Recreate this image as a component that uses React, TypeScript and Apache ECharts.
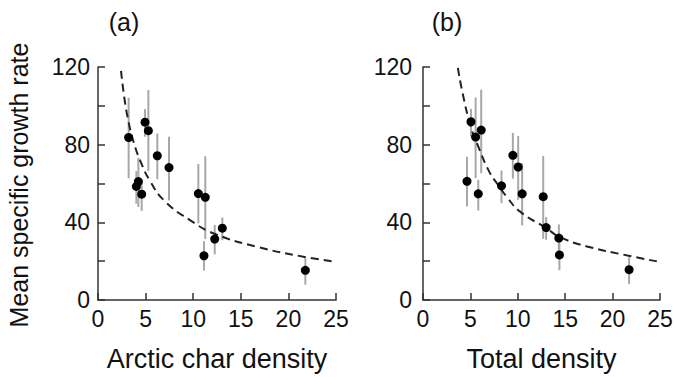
import React, { useEffect, useRef } from "react";
import * as echarts from "echarts";

// Panel (a): Arctic char density
const aDensity = [3.22, 4.03, 4.24, 4.59, 4.94, 5.29, 6.23, 7.46, 10.54, 11.27, 11.13, 12.26, 13.06, 21.78];
const aGrowth = [83.7, 58.5, 61.0, 54.5, 91.6, 87.2, 74.3, 68.2, 54.8, 52.9, 22.8, 31.4, 37.0, 15.3];
const aLow = [62.7, 49.6, 47.9, 45.9, 84.1, 66.4, 62.2, 51.3, 39.5, 31.4, 15.1, 23.5, 30.8, 7.9];
const aHigh = [104.2, 66.4, 73.1, 61.7, 98.3, 108.1, 85.7, 84.1, 70.1, 74.0, 30.3, 38.7, 42.5, 21.8];
const aCurveX = [2.42, 2.8, 3.2, 3.7, 4.5, 5.5, 7, 9.7, 12.3, 16.7, 21.7, 25];
const aCurveY = [118, 103, 92, 82, 71, 61, 51, 41, 34, 27.4, 22.2, 19.7];

// Panel (b): Total density
const bDensity = [4.64, 5.06, 5.55, 5.83, 6.14, 8.28, 9.48, 10.04, 10.46, 12.68, 12.99, 14.33, 14.39, 21.74];
const bGrowth = [61.1, 91.8, 83.9, 54.7, 87.5, 58.8, 74.5, 68.5, 54.7, 53.2, 37.3, 31.9, 23.2, 15.6];
const bLow = [48.2, 84.2, 62.8, 46.1, 65.3, 49.9, 62.5, 51.6, 38.4, 31.5, 31.0, 23.8, 15.3, 8.2];
const bHigh = [73.7, 98.4, 104.3, 61.9, 108.3, 66.7, 86.0, 84.4, 70.4, 74.2, 42.7, 38.9, 30.4, 22.0];
const bCurveX = [3.68, 4.2, 5.06, 5.75, 7, 7.96, 8.85, 10.25, 13, 14.4, 17.3, 21.8, 25];
const bCurveY = [119.5, 106, 89, 80, 66, 59, 53, 45.5, 37, 32.5, 27.6, 22.7, 19.6];

const panelLabels = ["(a)", "(b)"];
const xTitles = ["Arctic char density", "Total density"];
const yTitle = "Mean specific growth rate";

const FONT = "'Liberation Sans', Arial, sans-serif";
const INK = "#111";
const AXIS = "#333";

export default function App() {
  const ref = useRef<HTMLDivElement>(null);

  useEffect(() => {
    if (!ref.current) return;
    const chart = echarts.init(ref.current, undefined, { renderer: "svg" });

    const panels = [
      { x: aDensity, y: aGrowth, lo: aLow, hi: aHigh, cx: aCurveX, cy: aCurveY },
      { x: bDensity, y: bGrowth, lo: bLow, hi: bHigh, cx: bCurveX, cy: bCurveY },
    ];

    const series: any[] = [];
    panels.forEach((p, i) => {
      series.push({
        type: "custom",
        xAxisIndex: i,
        yAxisIndex: i,
        data: p.x.map((v, k) => [v, p.lo[k], p.hi[k]]),
        encode: { x: 0, y: [1, 2] },
        renderItem: (params: any, api: any) => {
          const xv = api.value(0);
          const a = api.coord([xv, api.value(1)]);
          const b = api.coord([xv, api.value(2)]);
          return {
            type: "line",
            shape: { x1: a[0], y1: a[1], x2: b[0], y2: b[1] },
            style: { stroke: "#a8a8a8", lineWidth: 2 },
          };
        },
        z: 1,
        silent: true,
      });
      series.push({
        type: "line",
        xAxisIndex: i,
        yAxisIndex: i,
        data: p.cx.map((v, k) => [v, p.cy[k]]),
        smooth: true,
        showSymbol: false,
        lineStyle: { color: "#222", width: 2, type: [8, 5] },
        z: 2,
        silent: true,
      });
      series.push({
        type: "scatter",
        xAxisIndex: i,
        yAxisIndex: i,
        data: p.x.map((v, k) => [v, p.y[k]]),
        symbol: "circle",
        symbolSize: 9,
        itemStyle: { color: "#000", opacity: 1 },
        z: 3,
        silent: true,
      });
    });

    const axisCommon = {
      axisLine: { show: true, onZero: false, lineStyle: { color: AXIS, width: 1.5 } },
      axisTick: { show: true, inside: true, length: 7, lineStyle: { color: AXIS, width: 1.5 } },
      splitLine: { show: false },
    };

    chart.setOption({
      animation: false,
      backgroundColor: "#fff",
      grid: [
        { left: 98, top: 67, width: 238, height: 238 },
        { left: 423, top: 67, width: 237, height: 239 },
      ],
      xAxis: [0, 1].map((i) => ({
        type: "value",
        gridIndex: i,
        min: 0,
        max: 25,
        interval: 5,
        ...axisCommon,
        axisLabel: { fontSize: 23, color: INK, margin: 7, fontFamily: FONT },
        name: xTitles[i],
        nameLocation: "middle",
        nameGap: 45,
        nameTextStyle: { fontSize: 27, color: INK, fontFamily: FONT },
      })),
      yAxis: [0, 1].map((i) => ({
        type: "value",
        gridIndex: i,
        min: 0,
        max: 120,
        interval: 20,
        ...axisCommon,
        axisLabel: {
          fontSize: 23,
          color: INK,
          margin: i === 0 ? 8 : 11,
          fontFamily: FONT,
          formatter: (v: number) => (v % 40 === 0 ? String(v) : ""),
        },
      })),
      graphic: [
        {
          type: "text",
          x: 19,
          y: 185,
          rotation: Math.PI / 2,
          style: {
            text: yTitle,
            fontSize: 25,
            fontFamily: FONT,
            fill: INK,
            textAlign: "center",
            textVerticalAlign: "middle",
          },
        },
        ...panelLabels.map((t, i) => ({
          type: "text",
          x: i === 0 ? 124 : 447,
          y: 22,
          style: {
            text: t,
            fontSize: 25,
            fontFamily: FONT,
            fill: INK,
            textAlign: "center",
            textVerticalAlign: "middle",
          },
        })),
      ],
      series,
    });

    return () => chart.dispose();
  }, []);

  return <div ref={ref} style={{ width: 677, height: 377, position: "absolute", left: 0, top: 0 }} />;
}
